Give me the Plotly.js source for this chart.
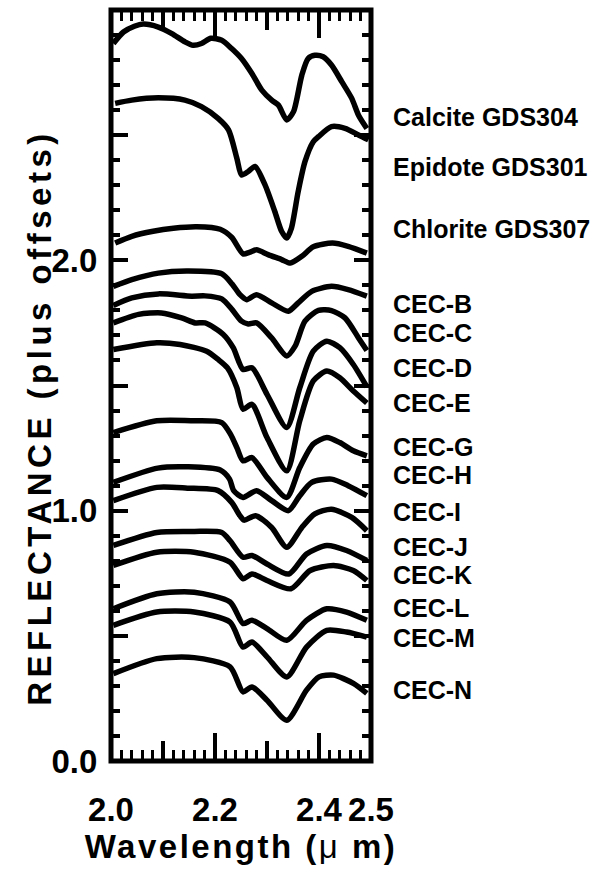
<!DOCTYPE html>
<html>
<head>
<meta charset="utf-8">
<script src="https://cdn.plot.ly/plotly-3.0.1.min.js"></script>
<style>
  html, body { margin: 0; padding: 0; background: #fff; }
  #chart { width: 613px; height: 871px; }
  .annotation[data-index="0"] .annotation-text { letter-spacing: 4.5px; }
  .xtitle { letter-spacing: 2.5px; }
</style>
</head>
<body>
<div id="chart"></div>
<script>
// ---- data (wavelength in µm, reflectance plus offsets) ----
const seriesNames = ["Calcite GDS304", "Epidote GDS301", "Chlorite GDS307",
  "CEC-B", "CEC-C", "CEC-D", "CEC-E", "CEC-G", "CEC-H", "CEC-I",
  "CEC-J", "CEC-K", "CEC-L", "CEC-M", "CEC-N"];

const wlCalcite = [2.0045, 2.024, 2.045, 2.062, 2.091, 2.117, 2.142, 2.158, 2.174, 2.192, 2.213, 2.232, 2.251, 2.271, 2.290, 2.309, 2.322, 2.338, 2.351, 2.367, 2.379, 2.392, 2.408, 2.424, 2.444, 2.463, 2.476, 2.492];
const rCalcite  = [2.866, 2.912, 2.935, 2.944, 2.932, 2.906, 2.873, 2.859, 2.866, 2.887, 2.879, 2.846, 2.806, 2.746, 2.680, 2.640, 2.620, 2.561, 2.594, 2.740, 2.806, 2.819, 2.813, 2.780, 2.713, 2.647, 2.580, 2.527];

const wlEpidote = [2.008, 2.040, 2.091, 2.142, 2.174, 2.206, 2.226, 2.242, 2.251, 2.264, 2.277, 2.296, 2.315, 2.328, 2.338, 2.347, 2.360, 2.373, 2.389, 2.399, 2.424, 2.450, 2.476, 2.495];
const rEpidote  = [2.627, 2.640, 2.649, 2.640, 2.614, 2.567, 2.521, 2.408, 2.341, 2.355, 2.375, 2.302, 2.195, 2.116, 2.089, 2.129, 2.275, 2.394, 2.474, 2.494, 2.534, 2.527, 2.501, 2.481];

const wlChlorite = [2.008, 2.040, 2.081, 2.120, 2.165, 2.210, 2.232, 2.254, 2.266, 2.280, 2.302, 2.328, 2.345, 2.367, 2.389, 2.426, 2.456, 2.492];
const rChlorite  = [2.069, 2.096, 2.116, 2.128, 2.134, 2.124, 2.092, 2.026, 2.032, 2.042, 2.023, 2.003, 1.989, 2.016, 2.054, 2.069, 2.056, 2.029];

const wlB = [2.0045, 2.040, 2.091, 2.149, 2.213, 2.233, 2.248, 2.261, 2.280, 2.309, 2.341, 2.360, 2.386, 2.424, 2.456, 2.492];
const rB  = [1.896, 1.923, 1.949, 1.957, 1.946, 1.905, 1.863, 1.843, 1.863, 1.830, 1.797, 1.830, 1.876, 1.896, 1.883, 1.857];

const wlC = [2.0045, 2.040, 2.091, 2.155, 2.181, 2.213, 2.233, 2.251, 2.264, 2.280, 2.309, 2.338, 2.354, 2.373, 2.399, 2.424, 2.450, 2.476, 2.492];
const rC  = [1.820, 1.850, 1.866, 1.857, 1.858, 1.846, 1.803, 1.757, 1.746, 1.750, 1.690, 1.618, 1.657, 1.757, 1.800, 1.799, 1.770, 1.690, 1.640];

const wlD = [2.0045, 2.053, 2.097, 2.136, 2.162, 2.181, 2.216, 2.235, 2.254, 2.271, 2.300, 2.338, 2.363, 2.389, 2.415, 2.440, 2.466, 2.492];
const rD  = [1.750, 1.784, 1.790, 1.770, 1.750, 1.750, 1.704, 1.651, 1.564, 1.571, 1.465, 1.332, 1.491, 1.637, 1.677, 1.651, 1.584, 1.495];

const wlE = [2.0045, 2.088, 2.133, 2.184, 2.206, 2.224, 2.242, 2.254, 2.271, 2.300, 2.338, 2.363, 2.389, 2.415, 2.440, 2.466, 2.492];
const rE  = [1.644, 1.671, 1.664, 1.637, 1.604, 1.570, 1.491, 1.405, 1.425, 1.292, 1.159, 1.359, 1.518, 1.558, 1.531, 1.478, 1.430];

const wlG = [2.0045, 2.088, 2.160, 2.213, 2.230, 2.242, 2.254, 2.271, 2.300, 2.338, 2.363, 2.389, 2.415, 2.440, 2.466, 2.492];
const rG  = [1.312, 1.359, 1.359, 1.352, 1.305, 1.252, 1.199, 1.212, 1.133, 1.053, 1.172, 1.266, 1.292, 1.272, 1.239, 1.219];

const wlH = [2.0045, 2.090, 2.149, 2.210, 2.228, 2.236, 2.254, 2.280, 2.309, 2.341, 2.363, 2.386, 2.424, 2.456, 2.492];
const rH  = [1.113, 1.170, 1.175, 1.162, 1.126, 1.080, 1.053, 1.080, 1.040, 1.000, 1.060, 1.113, 1.126, 1.100, 1.060];

const wlI = [2.0045, 2.088, 2.147, 2.206, 2.232, 2.248, 2.256, 2.278, 2.309, 2.338, 2.367, 2.392, 2.424, 2.463, 2.492];
const rI  = [1.040, 1.093, 1.090, 1.080, 1.033, 0.980, 0.962, 0.980, 0.933, 0.854, 0.933, 0.987, 1.006, 0.973, 0.920];

const wlJ = [2.0045, 2.088, 2.160, 2.213, 2.229, 2.254, 2.271, 2.300, 2.342, 2.376, 2.415, 2.453, 2.492];
const rJ  = [0.861, 0.913, 0.917, 0.913, 0.880, 0.814, 0.821, 0.787, 0.747, 0.827, 0.861, 0.841, 0.801];

const wlK = [2.0045, 2.088, 2.160, 2.229, 2.254, 2.271, 2.300, 2.346, 2.383, 2.428, 2.466, 2.492];
const rK  = [0.781, 0.834, 0.834, 0.794, 0.728, 0.747, 0.721, 0.688, 0.761, 0.781, 0.761, 0.721];

const wlL = [2.0045, 2.088, 2.160, 2.229, 2.254, 2.271, 2.300, 2.338, 2.376, 2.415, 2.453, 2.492];
const rL  = [0.608, 0.668, 0.674, 0.635, 0.549, 0.562, 0.529, 0.482, 0.562, 0.608, 0.595, 0.562];

const wlM = [2.0045, 2.088, 2.160, 2.229, 2.254, 2.271, 2.300, 2.338, 2.376, 2.415, 2.453, 2.492];
const rM  = [0.542, 0.595, 0.595, 0.555, 0.455, 0.475, 0.416, 0.336, 0.455, 0.522, 0.515, 0.495];

const wlN = [2.0045, 2.088, 2.160, 2.229, 2.254, 2.271, 2.300, 2.338, 2.376, 2.400, 2.428, 2.466, 2.492];
const rN  = [0.349, 0.409, 0.413, 0.376, 0.276, 0.296, 0.243, 0.163, 0.283, 0.336, 0.343, 0.310, 0.270];

// label positions (reflectance units)
const labelY = [2.574, 2.371, 2.124, 1.827, 1.711, 1.570, 1.430, 1.253, 1.141, 0.996, 0.855, 0.743, 0.612, 0.492, 0.283];

const xTickVals = [2.0, 2.2, 2.4, 2.5];
const xTickText = ["2.0", "2.2", "2.4", "2.5"];
const xMidTickVals = [2.1, 2.3];
const yTickVals = [0, 0.5, 1.0, 1.5, 2.0, 2.5, 3.0];
const yTickText = ["0.0", "", "1.0", "", "2.0", "", ""];
const yTitle = "REFLECTANCE (plus offsets)";
const xTitle = "Wavelength (<span style='font-weight:normal'>μ</span> m)";

// ---- build ----
const xs = [wlCalcite, wlEpidote, wlChlorite, wlB, wlC, wlD, wlE, wlG, wlH, wlI, wlJ, wlK, wlL, wlM, wlN];
const ys = [rCalcite, rEpidote, rChlorite, rB, rC, rD, rE, rG, rH, rI, rJ, rK, rL, rM, rN];

const FONT = "Liberation Sans, Arial, Helvetica, sans-serif";

const traces = seriesNames.map((name, i) => ({
  type: "scatter", mode: "lines", name: name,
  x: xs[i], y: ys[i],
  line: { color: "#000", width: 5.5, shape: "spline", smoothing: 0.7 },
  showlegend: false, hoverinfo: "skip"
}));
// empty trace to carry the secondary tick axis
traces.push({ type: "scatter", mode: "lines", x: [], y: [], xaxis: "x2", yaxis: "y", showlegend: false, hoverinfo: "skip" });

const annotations = [{
  text: yTitle, xref: "paper", yref: "paper", x: -0.275, y: 0.457,
  xanchor: "center", yanchor: "middle", textangle: -90, showarrow: false,
  font: { family: FONT, size: 33, color: "#000", weight: "bold" }
}].concat(seriesNames.map((name, i) => ({
  text: name, xref: "x", yref: "y", x: 2.5, y: labelY[i],
  xanchor: "left", yanchor: "middle", xshift: 20, showarrow: false,
  font: { family: FONT, size: 25, color: "#000", weight: "bold" }
})));

const layout = {
  width: 613, height: 871,
  margin: { l: 111, r: 242, t: 10, b: 110 },
  paper_bgcolor: "#fff", plot_bgcolor: "#fff",
  showlegend: false,
  font: { family: FONT, color: "#000", weight: "bold" },
  xaxis: {
    range: [2.0, 2.5], tickmode: "array", tickvals: xTickVals, ticktext: xTickText,
    ticks: "inside", ticklen: 28, tickwidth: 4, tickcolor: "#000",
    mirror: "ticks", showline: true, linewidth: 1, linecolor: "#000",
    showgrid: false, zeroline: false, ticklabelstandoff: 19,
    tickfont: { family: FONT, size: 33, color: "#000", weight: "bold" },
    minor: { tickmode: "linear", tick0: 2.0, dtick: 0.02, ticks: "inside", ticklen: 11, tickwidth: 3, tickcolor: "#000", showgrid: false },
    title: { text: xTitle, standoff: 0,
             font: { family: FONT, size: 33, color: "#000", weight: "bold" } }
  },
  xaxis2: {
    overlaying: "x", anchor: "y", side: "bottom", range: [2.0, 2.5],
    tickmode: "array", tickvals: xMidTickVals, showticklabels: false,
    ticks: "inside", ticklen: 20, tickwidth: 4, tickcolor: "#000",
    mirror: "ticks", showline: true, linewidth: 1, linecolor: "#000",
    showgrid: false, zeroline: false
  },
  yaxis: {
    range: [0, 3], tickmode: "array", tickvals: yTickVals, ticktext: yTickText,
    ticks: "inside", ticklen: 17, tickwidth: 4, tickcolor: "#000",
    mirror: "ticks", showline: true, linewidth: 1, linecolor: "#000",
    showgrid: false, zeroline: false, ticklabelstandoff: 6,
    tickfont: { family: FONT, size: 33, color: "#000", weight: "bold" },
    minor: { tickmode: "linear", tick0: 0, dtick: 0.1, ticks: "inside", ticklen: 9, tickwidth: 4, tickcolor: "#000", showgrid: false }
  },
  shapes: [{
    type: "rect", xref: "paper", yref: "paper", x0: 0, x1: 1, y0: 0, y1: 1,
    line: { color: "#000", width: 5 }, fillcolor: "rgba(0,0,0,0)", layer: "above"
  }],
  annotations: annotations
};

Plotly.newPlot("chart", traces, layout, { staticPlot: true, displayModeBar: false });
</script>
</body>
</html>
